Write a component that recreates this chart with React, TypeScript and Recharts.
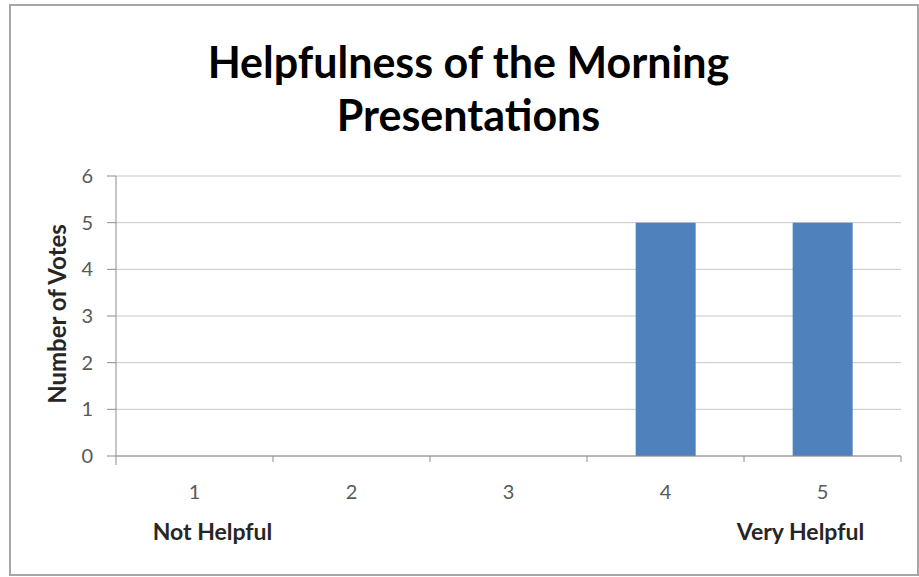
import { Bar, BarChart, CartesianGrid, XAxis, YAxis } from "recharts";

const ratings = ["1", "2", "3", "4", "5"];
const votes = [0, 0, 0, 5, 5];
const ratingNotes = ["Not Helpful", "", "", "", "Very Helpful"];
const voteTicks = [0, 1, 2, 3, 4, 5, 6];

const FONT = "Lato, 'Open Sans', sans-serif";
const AXIS_GRAY = "#8c8c8c";
const BAND = (901 - 116) / 5;

const data = ratings.map((r, i) => ({ rating: r, votes: votes[i], note: ratingNotes[i] }));

// ticks sit between categories like in Excel, plus number and note text
function RatingTick(props: any) {
  const { x, y, payload, index } = props;
  const note = ratingNotes[index] || "";
  const left = x - BAND / 2;
  // the notes are nudged toward the middle of the chart, as in the original
  const noteShift = index === 0 ? 18 : -22;
  return (
    <g>
      <line x1={left} y1={y} x2={left} y2={y + (index === 0 ? 9 : 6)} stroke={AXIS_GRAY} />
      {index === ratings.length - 1 && (
        <line x1={x + BAND / 2} y1={y} x2={x + BAND / 2} y2={y + 6} stroke={AXIS_GRAY} />
      )}
      <text x={x} y={y + 43} textAnchor="middle" fill="#595959" fontSize={20} fontFamily={FONT}>
        {payload.value}
      </text>
      {note && (
        <text x={x + noteShift} y={y + 84} textAnchor="middle" fill="#262626" fontSize={23} fontWeight="bold" fontFamily={FONT}>
          {note}
        </text>
      )}
    </g>
  );
}

export default function App() {
  return (
    <div style={{ position: "fixed", left: 0, top: 0, width: 919, height: 577, background: "#fff" }}>
      <div
        style={{
          position: "absolute",
          left: 9,
          top: 4,
          width: 906,
          height: 568,
          border: "2px solid #a6a6a6",
        }}
      />
      <div
        style={{
          position: "absolute",
          left: 0,
          top: 35,
          width: 937,
          textAlign: "center",
          fontFamily: FONT,
          fontWeight: "bold",
          fontSize: 43,
          lineHeight: "53px",
          color: "#000",
        }}
      >
        Helpfulness of the Morning
        <br />
        Presentations
      </div>
      <div style={{ position: "absolute", left: 0, top: 0 }}>
        <BarChart
          width={919}
          height={577}
          data={data}
          margin={{ top: 176, right: 18, bottom: 0, left: 0 }}
          barCategoryGap="31%"
        >
          <CartesianGrid vertical={false} stroke="#c8c8c8" />
          <XAxis
            dataKey="rating"
            height={121}
            tickSize={0}
            tickMargin={0}
            tickLine={false}
            axisLine={{ stroke: AXIS_GRAY }}
            tick={<RatingTick />}
            interval={0}
          />
          <YAxis
            domain={[0, 6]}
            ticks={voteTicks}
            width={116}
            tickSize={9}
            tickMargin={14}
            axisLine={{ stroke: AXIS_GRAY }}
            tickLine={{ stroke: AXIS_GRAY }}
            tick={{ fill: "#595959", fontSize: 20, fontFamily: FONT }}
            label={{
              value: "Number of Votes",
              angle: -90,
              position: "center",
              dx: -1,
              dy: -2,
              style: { fontFamily: FONT, fontSize: 24, fontWeight: "bold", fill: "#262626" },
            }}
          />
          <Bar dataKey="votes" fill="#4F81BD" isAnimationActive={false} />
        </BarChart>
      </div>
    </div>
  );
}
